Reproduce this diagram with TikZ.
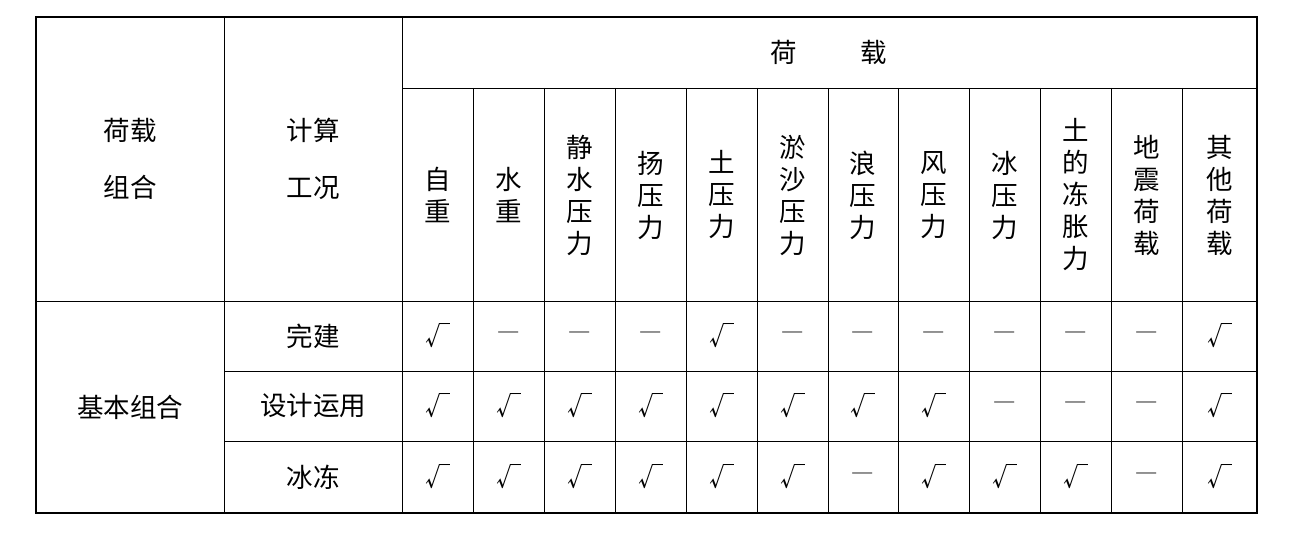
\documentclass[tikz,border=0pt]{standalone}
\usepackage{fontspec}
\newfontfamily\cjk{Noto Sans CJK SC}
\begin{document}
\begin{tikzpicture}[x=1pt,y=-1pt,
  t/.style={font=\cjk\fontsize{26.5}{32}\selectfont,align=center,inner sep=0},
  ck/.style={font=\cjk\fontsize{25}{25}\selectfont,inner sep=0},
  dsh/.style={font=\cjk\fontsize{25}{25}\selectfont,inner sep=0,text=black!55},
  thin/.style={line width=0.8pt}, thick/.style={line width=1.6pt}]
\useasboundingbox (0,0) rectangle (1299,540);
\def\xs{{36,224,402,473,544,615,686,757,828,898,969,1040,1111,1182,1257}}
% lines
\draw[thin] (402,88) -- (1257,88);
\foreach \y in {301,371,441} \draw[thin] (224,\y) -- (1257,\y);
\draw[thin] (36,301) -- (224,301);
\foreach \x in {224,402,473,544,615,686,757,828,898,969,1040,1111,1182} {
  \ifnum\x>402 \draw[thin] (\x,88) -- (\x,513); \else \draw[thin] (\x,17) -- (\x,513); \fi }
\draw[thick] (36,17) rectangle (1257,513);
% headers
\node[t] (h1) at (130,159) {荷载\\[25pt]组合};
\node[t] (h2) at (313,159) {计算\\[25pt]工况};
\node[t] (h3) at (829,52) {荷\hspace{2.4em}载};
\foreach \i/\txt in {3/{自\\重},4/{水\\重},5/{静\\水\\压\\力},6/{扬\\压\\力},7/{土\\压\\力},8/{淤\\沙\\压\\力},9/{浪\\压\\力},10/{风\\压\\力},11/{冰\\压\\力},12/{土\\的\\冻\\胀\\力},13/{地\\震\\荷\\载},14/{其\\他\\荷\\载}} {
  \pgfmathsetmacro\xa{\xs[\i-1]}\pgfmathsetmacro\xb{\xs[\i]}
  \node[t] (c\i) at ({(\xa+\xb)/2},195) {\txt};
}
\node[t] (g) at (130,407) {基本组合};
\node[t] (r1) at (313,336) {完建};
\node[t] (r2) at (313,406) {设计运用};
\node[t] (r3) at (313,477) {冰冻};
% marks
\foreach \row/\y/\marks in {1/336/{{1,0,0,0,1,0,0,0,0,0,0,1}},2/406/{{1,1,1,1,1,1,1,1,0,0,0,1}},3/477/{{1,1,1,1,1,1,0,1,1,1,0,1}}} {
  \foreach \j in {1,...,12} {
    \pgfmathtruncatemacro\m{\marks[\j-1]}
    \pgfmathtruncatemacro\i{\j+2}
    \pgfmathsetmacro\xa{\xs[\i-1]}\pgfmathsetmacro\xb{\xs[\i]}
    \ifnum\m=1
      \node[ck] (m\row-\j) at ({(\xa+\xb)/2},\y) {√};
    \else
      \node[dsh] (m\row-\j) at ({(\xa+\xb)/2},\y) {—};
    \fi
  }
}
\end{tikzpicture}
\end{document}
